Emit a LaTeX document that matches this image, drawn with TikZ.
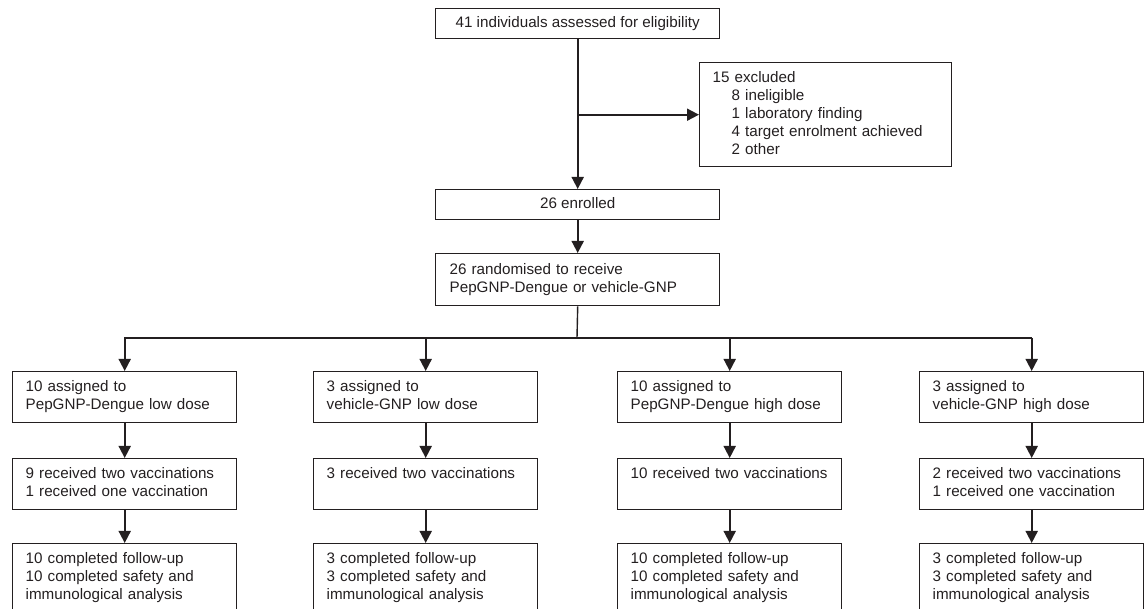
\documentclass[tikz,border=0pt]{standalone}
\usepackage{fontspec}
\setmainfont{Liberation Sans}
\usetikzlibrary{arrows.meta}
\definecolor{ink}{HTML}{231F20}
\begin{document}
\begin{tikzpicture}[x=1pt,y=-1pt,
  box/.style={draw=ink, line width=1.4pt, rectangle, anchor=north west,
    inner xsep=13pt, inner ysep=0pt, font=\fontsize{15.2}{18}\selectfont, text=ink},
  midbox/.style={box, minimum width=284pt, align=center},
  colbox/.style={box, minimum width=224pt, text width=198pt, align=left},
  conn/.style={draw=ink, line width=1.8pt},
  arr/.style={conn, -{Triangle[length=12pt,width=12pt]}}
]
\useasboundingbox (0,0) rectangle (1144,609);

% top part
\node[midbox, minimum height=30pt] (elig) at (435,8) {\strut 41 individuals assessed for eligibility};
\node[box, minimum width=252pt, minimum height=104pt, text width=226pt, align=left] (excl) at (699,62)
  {\strut 15 excluded\\
   \strut\hspace*{19pt}8 ineligible\\
   \strut\hspace*{19pt}1 laboratory finding\\
   \strut\hspace*{19pt}4 target enrolment achieved\\
   \strut\hspace*{19pt}2 other};
\node[midbox, minimum height=30pt] (enr) at (435,189) {\strut 26 enrolled};
\node[box, minimum width=284pt, text width=256pt, minimum height=52pt, align=left, inner xsep=14pt] (rand) at (435,253)
  {\strut 26 randomised to receive\\\strut PepGNP-Dengue or vehicle-GNP};

% column boxes, row 1
\node[colbox, minimum height=51pt] (a1) at (12,371) {\strut 10 assigned to\\\strut PepGNP-Dengue low dose};
\node[colbox, minimum height=51pt] (b1) at (313,371) {\strut 3 assigned to\\\strut vehicle-GNP low dose};
\node[colbox, minimum height=51pt] (c1) at (617,371) {\strut 10 assigned to\\\strut PepGNP-Dengue high dose};
\node[colbox, minimum height=51pt] (d1) at (919,371) {\strut 3 assigned to\\\strut vehicle-GNP high dose};

% row 2
\node[colbox, minimum height=51pt] (a2) at (12,458) {\strut 9 received two vaccinations\\\strut 1 received one vaccination};
\node[colbox, minimum height=51pt] (b2) at (313,458) {\strut 3 received two vaccinations\\\strut};
\node[colbox, minimum height=51pt] (c2) at (617,458) {\strut 10 received two vaccinations\\\strut};
\node[colbox, minimum height=51pt] (d2) at (919,458) {\strut 2 received two vaccinations\\\strut 1 received one vaccination};

% row 3
\node[colbox, minimum height=69pt] (a3) at (12,543) {\strut 10 completed follow-up\\\strut 10 completed safety and\\\strut immunological analysis};
\node[colbox, minimum height=69pt] (b3) at (313,543) {\strut 3 completed follow-up\\\strut 3 completed safety and\\\strut immunological analysis};
\node[colbox, minimum height=69pt] (c3) at (617,543) {\strut 10 completed follow-up\\\strut 10 completed safety and\\\strut immunological analysis};
\node[colbox, minimum height=69pt] (d3) at (919,543) {\strut 3 completed follow-up\\\strut 3 completed safety and\\\strut immunological analysis};

% connectors
\coordinate (jx) at (elig.south |- excl.west);
\draw[arr] (elig.south) -- (enr.north);
\draw[arr] (jx) -- (excl.west);
\draw[arr] (enr.south) -- (rand.north);
\coordinate (split) at (577,338);
\draw[conn, line width=1.4pt] (rand.south) -- (split);
\draw[conn, line width=1.4pt, line cap=rect] (a1.north |- split) -- (d1.north |- split);
\foreach \c in {a,b,c,d} {
  \draw[arr] (\c1.north |- split) -- (\c1.north);
  \draw[arr] (\c1.south) -- (\c2.north);
  \draw[arr] (\c2.south) -- (\c3.north);
}
\end{tikzpicture}
\end{document}
